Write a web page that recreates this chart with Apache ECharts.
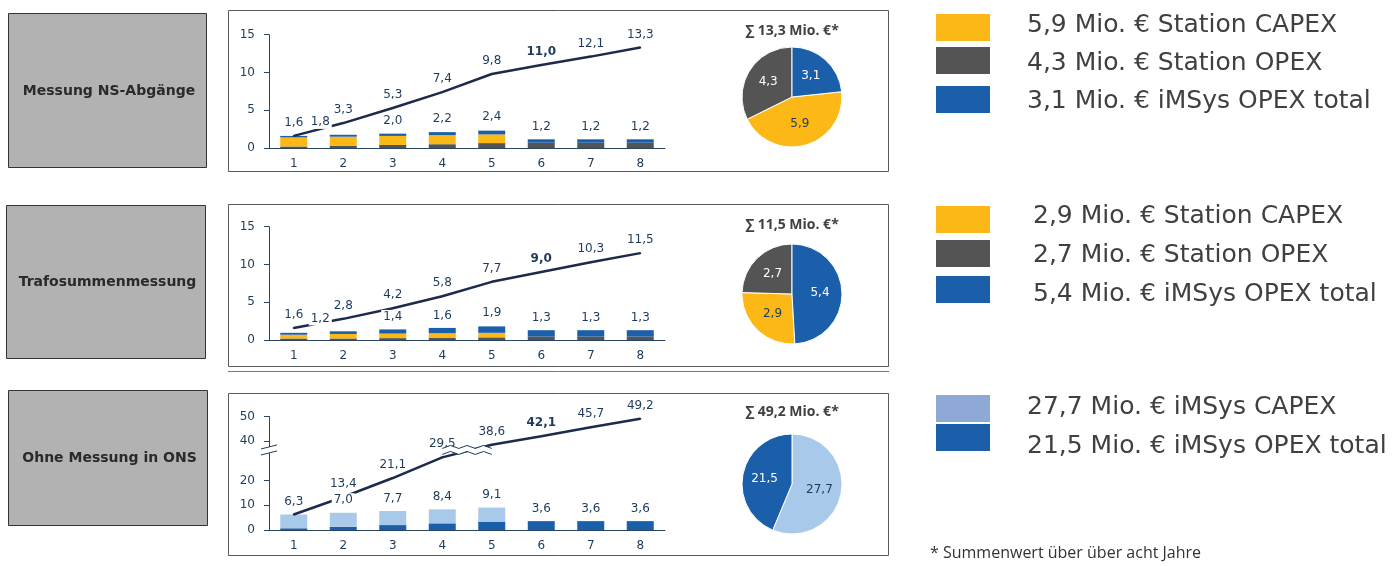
<!DOCTYPE html>
<html>
<head>
<meta charset="utf-8">
<script src="https://cdn.jsdelivr.net/npm/echarts@6.0.0/dist/echarts.min.js"></script>
<style>
html, body { margin: 0; padding: 0; background: #fff; }
#main { width: 1395px; height: 566px; }
</style>
</head>
<body>
<div id="main"></div>
<script>
var years = ['1', '2', '3', '4', '5', '6', '7', '8'];

// Messung NS-Abgänge
var nsStationCapex = [1.2, 1.2, 1.2, 1.2, 1.15, 0, 0, 0];
var nsStationOpex  = [0.2, 0.3, 0.4, 0.5, 0.65, 0.7, 0.7, 0.7];
var nsImsysOpex    = [0.2, 0.25, 0.3, 0.4, 0.5, 0.45, 0.45, 0.45];
var nsBarTotals    = [1.6, 1.8, 2.0, 2.2, 2.4, 1.2, 1.2, 1.2];
var nsCumulative   = [1.6, 3.3, 5.3, 7.4, 9.8, 11.0, 12.1, 13.3];
var nsPieNames     = ['Station CAPEX', 'Station OPEX', 'iMSys OPEX total'];
var nsPieValues    = [5.9, 4.3, 3.1];

// Trafosummenmessung
var tsStationCapex = [0.5, 0.6, 0.6, 0.6, 0.6, 0, 0, 0];
var tsStationOpex  = [0.2, 0.2, 0.25, 0.3, 0.35, 0.45, 0.45, 0.45];
var tsImsysOpex    = [0.25, 0.35, 0.55, 0.7, 0.85, 0.85, 0.85, 0.85];
var tsBarTotals    = [1.0, 1.2, 1.4, 1.6, 1.9, 1.3, 1.3, 1.3];
var tsCumulative   = [1.6, 2.8, 4.2, 5.8, 7.7, 9.0, 10.3, 11.5];
var tsPieNames     = ['Station CAPEX', 'Station OPEX', 'iMSys OPEX total'];
var tsPieValues    = [2.9, 2.7, 5.4];

// Ohne Messung in ONS
var onsImsysOpex   = [0.7, 1.3, 2.0, 2.7, 3.4, 3.6, 3.6, 3.6];
var onsImsysCapex  = [5.6, 5.7, 5.7, 5.7, 5.7, 0, 0, 0];
var onsBarTotals   = [6.3, 7.0, 7.7, 8.4, 9.1, 3.6, 3.6, 3.6];
var onsCumulative  = [6.3, 13.4, 21.1, 29.5, 38.6, 42.1, 45.7, 49.2];
var onsPieNames    = ['iMSys CAPEX', 'iMSys OPEX total'];
var onsPieValues   = [27.7, 21.5];

var boxTitles = ['Messung NS-Abgänge', 'Trafosummenmessung', 'Ohne Messung in ONS'];
var yMax = [15, 15, 50];
var yStep = [5, 5, 10];
var onsTicks = [0, 10, 20, 40, 50];
var axisBreak = [32, 37];

var yellow = '#fbb817', grey = '#545454', blue = '#1b5ea9', lightBlue = '#a9c9eb', legendLight = '#8ea9d5';
var lineColor = '#1c2b4b', textColor = '#1d3a5a', axisColor = '#2a4560';
var numFont = 'DejaVu Sans';

function fmt(v) { return v.toFixed(1).replace('.', ','); }
function sum(a) { return a.reduce(function (s, v) { return s + v; }, 0); }

var gridTop = [34.7, 226.7, 416.7];
var chart = echarts.init(document.getElementById('main'));

var grids = [], xAxes = [], yAxes = [], series = [];
gridTop.forEach(function (top, i) {
    grids.push({ left: 269, top: top, width: 396, height: 113.3 });
    xAxes.push({
        type: 'category', gridIndex: i, data: years,
        axisLine: { lineStyle: { color: axisColor, width: 1 } },
        axisTick: { show: false },
        axisLabel: { color: textColor, fontSize: 12, fontFamily: numFont, margin: 10 }
    });
    var y = {
        type: 'value', gridIndex: i, min: 0, max: yMax[i], interval: yStep[i],
        axisLine: { show: true, lineStyle: { color: axisColor, width: 1 } },
        axisTick: { show: true, length: 5, lineStyle: { color: axisColor } },
        splitLine: { show: false },
        axisLabel: { color: textColor, fontSize: 12, fontFamily: numFont, margin: 14 }
    };
    if (i === 2) {
        y.breaks = [{ start: axisBreak[0], end: axisBreak[1], gap: 1 }];
        y.breakArea = { show: false };
        y.axisLabel.customValues = onsTicks;
        y.axisTick.customValues = onsTicks;
    }
    yAxes.push(y);
});

function barSeries(name, data, color, idx) {
    return {
        name: name, type: 'bar', xAxisIndex: idx, yAxisIndex: idx, stack: 'p' + idx,
        data: data, barWidth: 27, itemStyle: { color: color }, z: 2
    };
}
function lineSeries(data, idx) {
    return {
        type: 'line', xAxisIndex: idx, yAxisIndex: idx, z: 3,
        symbol: 'circle', symbolSize: 2, showSymbol: true,
        itemStyle: { color: lineColor },
        data: data.map(function (v, i) {
            return i === 5 ? { value: v, label: { fontWeight: 'bold' } } : v;
        }),
        lineStyle: { color: lineColor, width: 2.5 },
        label: {
            show: true, position: 'top', distance: 6, color: textColor, fontSize: 12, fontFamily: numFont,
            formatter: function (p) { return fmt(p.value); }
        }
    };
}
// stack totals shown above the bars, white box hides the line behind them
function totalLabels(data, idx, shift) {
    return {
        type: 'scatter', xAxisIndex: idx, yAxisIndex: idx, symbolSize: 1, z: 4,
        itemStyle: { color: 'rgba(0,0,0,0)', opacity: 1 },
        data: data.map(function (v, i) {
            if (i === 0) return { value: v, label: { show: false } };
            if (i === 1 && shift) return { value: v, label: { offset: [shift, 0] } };
            return v;
        }),
        label: {
            show: true, position: 'top', distance: 5, color: textColor, fontSize: 12, fontFamily: numFont,
            backgroundColor: '#fff', padding: [1, 2], opacity: 1,
            formatter: function (p) { return fmt(p.value); }
        }
    };
}
function pieSeries(names, values, colors, labelColors, cy, startAngle) {
    return {
        type: 'pie', center: [792, cy], radius: 50, startAngle: startAngle, silent: true,
        itemStyle: { borderColor: '#fff', borderWidth: 1 },
        label: {
            show: true, position: 'inside', fontSize: 12, fontFamily: numFont,
            formatter: function (p) { return fmt(p.value); }
        },
        labelLine: { show: false },
        data: names.map(function (n, i) {
            return { name: n, value: values[i], itemStyle: { color: colors[i] }, label: { color: labelColors[i] } };
        })
    };
}

series.push(
    barSeries('Station OPEX', nsStationOpex, grey, 0),
    barSeries('Station CAPEX', nsStationCapex, yellow, 0),
    barSeries('iMSys OPEX total', nsImsysOpex, blue, 0),
    lineSeries(nsCumulative, 0),
    totalLabels(nsBarTotals, 0, -23),
    barSeries('Station OPEX', tsStationOpex, grey, 1),
    barSeries('Station CAPEX', tsStationCapex, yellow, 1),
    barSeries('iMSys OPEX total', tsImsysOpex, blue, 1),
    lineSeries(tsCumulative, 1),
    totalLabels(tsBarTotals, 1, -23),
    barSeries('iMSys OPEX total', onsImsysOpex, blue, 2),
    barSeries('iMSys CAPEX', onsImsysCapex, lightBlue, 2),
    lineSeries(onsCumulative, 2),
    totalLabels(onsBarTotals, 2, 0),
    pieSeries(nsPieNames, nsPieValues, [yellow, grey, blue], [textColor, '#fff', '#fff'], 97,
        90 - 360 * nsPieValues[2] / sum(nsPieValues)),
    pieSeries(tsPieNames, tsPieValues, [yellow, grey, blue], [textColor, '#fff', '#fff'], 294,
        90 - 360 * tsPieValues[2] / sum(tsPieValues)),
    pieSeries(onsPieNames, onsPieValues, [lightBlue, blue], [textColor, '#fff'], 484, 90)
);

// static page elements: boxes, frames, pie titles, legends
var graphics = [];
var boxes = [[8, 13, 198, 154], [6, 205, 199, 153], [8, 390, 199, 135]];
boxes.forEach(function (b, i) {
    graphics.push({
        type: 'rect', shape: { x: b[0] + 0.5, y: b[1] + 0.5, width: b[2], height: b[3] },
        style: { fill: '#b2b2b2', stroke: '#333', lineWidth: 1 }
    });
    graphics.push({
        type: 'text', x: b[0] + b[2] / 2 + 2, y: b[1] + b[3] / 2 + 1,
        style: {
            text: boxTitles[i], textAlign: 'center', textVerticalAlign: 'middle', align: 'center', verticalAlign: 'middle',
            font: 'bold 14px "DejaVu Sans"', fill: '#2a2a2a'
        }
    });
});
var frames = [[228, 10, 660, 161], [228, 204, 660, 162], [228, 393, 660, 162]];
frames.forEach(function (f) {
    graphics.push({
        type: 'rect', shape: { x: f[0] + 0.5, y: f[1] + 0.5, width: f[2], height: f[3] },
        style: { fill: 'none', stroke: '#595959', lineWidth: 1 }
    });
});
graphics.push({
    type: 'line', shape: { x1: 228, y1: 371.5, x2: 889, y2: 371.5 },
    style: { stroke: '#777', lineWidth: 1 }
});
var pieTotals = [nsCumulative[7], tsCumulative[7], onsCumulative[7]];
[31, 225, 412].forEach(function (ty, i) {
    graphics.push({
        type: 'text', x: 792, y: ty,
        style: {
            text: '\u2211 ' + fmt(pieTotals[i]) + ' Mio. \u20ac*', textAlign: 'center', textVerticalAlign: 'middle',
            align: 'center', verticalAlign: 'middle', font: 'bold 14px "Open Sans"', fill: '#404040'
        }
    });
});

var legends = [
    { names: nsPieNames, values: nsPieValues, colors: [yellow, grey, blue], rows: [14, 47, 86], textRows: [25, 63, 101], tx: 1027 },
    { names: tsPieNames, values: tsPieValues, colors: [yellow, grey, blue], rows: [206, 240, 276], textRows: [216, 255, 294], tx: 1033 },
    { names: onsPieNames, values: onsPieValues, colors: [legendLight, blue], rows: [395, 424], textRows: [407, 446], tx: 1027 }
];
legends.forEach(function (lg) {
    lg.names.forEach(function (n, i) {
        graphics.push({
            type: 'rect', shape: { x: 936, y: lg.rows[i], width: 54, height: 27 },
            style: { fill: lg.colors[i] }
        });
        graphics.push({
            type: 'text', x: lg.tx, y: lg.textRows[i],
            style: {
                text: fmt(lg.values[i]) + ' Mio. \u20ac ' + n, textVerticalAlign: 'middle', verticalAlign: 'middle',
                font: '25px "DejaVu Sans"', fill: '#404040'
            }
        });
    });
});
graphics.push({
    type: 'text', x: 930, y: 553,
    style: {
        text: '* Summenwert \u00fcber \u00fcber acht Jahre', textVerticalAlign: 'middle', verticalAlign: 'middle',
        font: '16px "Open Sans"', fill: '#333'
    }
});

chart.setOption({
    animation: false,
    grid: grids,
    xAxis: xAxes,
    yAxis: yAxes,
    series: series,
    graphic: { elements: graphics }
});

// break markers on the third panel (axis and line crossing)
var yLo = chart.convertToPixel({ yAxisIndex: 2 }, axisBreak[0]);
var yHi = chart.convertToPixel({ yAxisIndex: 2 }, axisBreak[1]);
var yMid = (yLo + yHi) / 2;
var xa = chart.convertToPixel({ xAxisIndex: 2 }, years[3]);
var xb = chart.convertToPixel({ xAxisIndex: 2 }, years[4]);
var upper = [], lower = [];
for (var k = 0; k <= 6; k++) {
    var x = xa + (xb - xa) * k / 6;
    var dy = (k % 2 === 0) ? 1.5 : -1.5;
    upper.push([x, yMid - 3 + dy]);
    lower.push([x, yMid + 3 + dy]);
}
graphics.push(
    { type: 'polygon', z: 100, shape: { points: upper.concat(lower.slice().reverse()) }, style: { fill: '#fff' } },
    { type: 'polyline', z: 101, shape: { points: upper }, style: { stroke: textColor, lineWidth: 1, fill: null } },
    { type: 'polyline', z: 101, shape: { points: lower }, style: { stroke: textColor, lineWidth: 1, fill: null } },
    { type: 'rect', z: 100, shape: { x: 264, y: yMid - 3, width: 10, height: 6 }, style: { fill: '#fff' } },
    { type: 'line', z: 101, shape: { x1: 261, y1: yMid - 1, x2: 277, y2: yMid - 5 }, style: { stroke: textColor, lineWidth: 1 } },
    { type: 'line', z: 101, shape: { x1: 261, y1: yMid + 5, x2: 277, y2: yMid + 1 }, style: { stroke: textColor, lineWidth: 1 } }
);
chart.setOption({ graphic: { elements: graphics } });
</script>
</body>
</html>
